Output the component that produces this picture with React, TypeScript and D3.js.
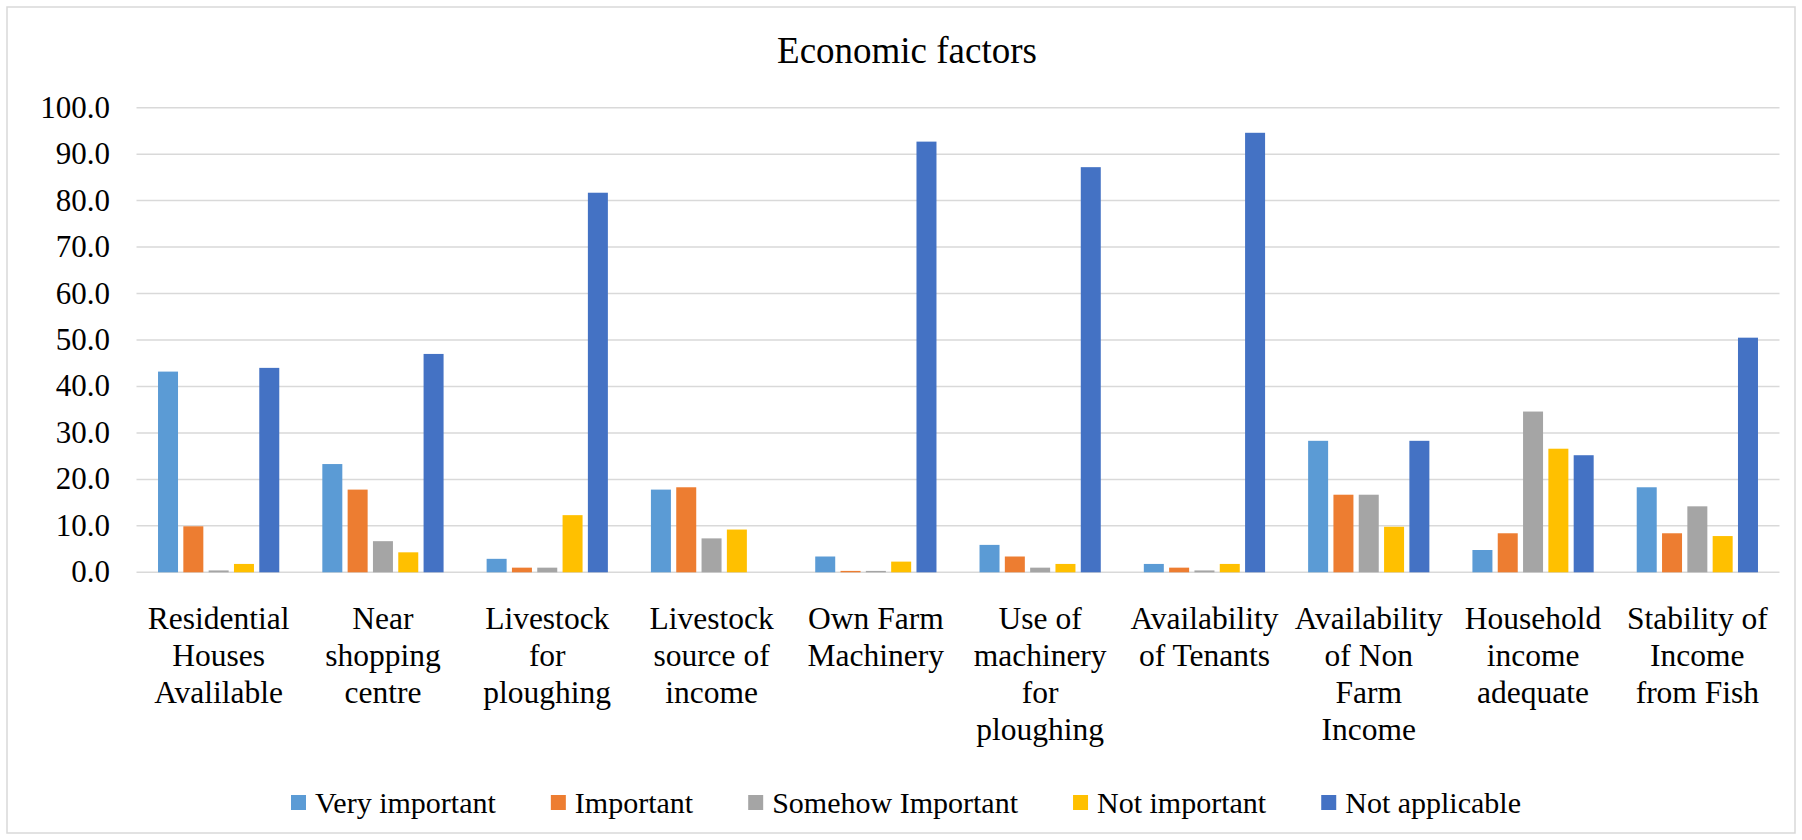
import React, { useMemo } from "react";
import * as d3 from "d3";

// Category labels, already broken into the lines they wrap to
const categoryLines: string[][] = [
  ["Residential", "Houses", "Avalilable"],
  ["Near", "shopping", "centre"],
  ["Livestock", "for", "ploughing"],
  ["Livestock", "source of", "income"],
  ["Own Farm", "Machinery"],
  ["Use of", "machinery", "for", "ploughing"],
  ["Availability", "of Tenants"],
  ["Availability", "of Non", "Farm", "Income"],
  ["Household", "income", "adequate"],
  ["Stability of", "Income", "from Fish"],
];

const seriesNames = ["Very important", "Important", "Somehow Important", "Not important", "Not applicable"];
const seriesColors = ["#5B9BD5", "#ED7D31", "#A5A5A5", "#FFC000", "#4472C4"];

const veryImportant = [43.2, 23.3, 2.9, 17.8, 3.4, 5.9, 1.8, 28.3, 4.8, 18.3];
const important = [9.9, 17.8, 1.0, 18.3, 0.3, 3.4, 1.0, 16.7, 8.4, 8.4];
const somehowImportant = [0.4, 6.7, 1.0, 7.3, 0.3, 1.0, 0.4, 16.7, 34.6, 14.2];
const notImportant = [1.8, 4.3, 12.3, 9.2, 2.3, 1.8, 1.8, 9.8, 26.6, 7.8];
const notApplicable = [44.0, 47.0, 81.7, 0.0, 92.7, 87.2, 94.6, 28.3, 25.2, 50.5];

const yTicks = [0, 10, 20, 30, 40, 50, 60, 70, 80, 90, 100];

const W = 1802;
const H = 840;
const FONT =
  "'Liberation Serif', Tinos, 'Times New Roman', Times, 'Nimbus Roman', 'Nimbus Roman No9 L', 'DejaVu Serif', 'Noto Serif', serif";

export default function App() {
  const series = [veryImportant, important, somehowImportant, notImportant, notApplicable];

  const plotLeft = 136.5;
  const plotRight = 1779.5;
  const plotTop = 107.7;
  const plotBottom = 572.3;

  const x = d3
    .scaleBand<number>()
    .domain(categoryLines.map((_, i) => i))
    .range([plotLeft, plotRight])
    .paddingInner(0)
    .paddingOuter(0);

  const groupWidth = x.bandwidth() * 0.738;
  const xs = d3
    .scaleBand<string>()
    .domain(seriesNames)
    .range([-groupWidth / 2, groupWidth / 2])
    .paddingInner(0.21)
    .paddingOuter(0);

  const y = d3.scaleLinear().domain([0, 100]).range([plotBottom, plotTop]);

  // Legend entries laid out from measured text widths
  const legend = useMemo(() => {
    const canvas = document.createElement("canvas");
    const ctx = canvas.getContext("2d")!;
    ctx.font = `30px ${FONT}`;
    const widths = seriesNames.map((s) => ctx.measureText(s).width);
    const sq = 15;
    const gapAfterSq = 9;
    const left = 291;
    const right = 1521;
    const content = widths.reduce((a, b) => a + b, 0) + seriesNames.length * (sq + gapAfterSq);
    const itemGap = Math.max(20, (right - left - content) / (seriesNames.length - 1));
    let cx = left;
    return seriesNames.map((name, i) => {
      const item = { name, color: seriesColors[i], x: cx, textX: cx + sq + gapAfterSq };
      cx += sq + gapAfterSq + widths[i] + itemGap;
      return item;
    });
  }, []);

  return (
    <svg
      width={W}
      height={H}
      style={{ position: "absolute", left: 0, top: 0, background: "#fff", fontFamily: FONT }}
    >
      <rect x={0} y={0} width={W} height={H} fill="#fff" />
      <rect x={7} y={7} width={1788} height={826} fill="#fff" stroke="#d9d9d9" strokeWidth={1.5} />

      <text x={907} y={63} textAnchor="middle" fontSize={37} fill="#000" style={{ fontFamily: FONT }}>
        Economic factors
      </text>

      {/* gridlines and value axis */}
      {yTicks.map((t) => (
        <g key={t}>
          <line x1={plotLeft} x2={plotRight} y1={y(t)} y2={y(t)} stroke="#d9d9d9" strokeWidth={1.5} />
          <text x={110} y={y(t) + 10} textAnchor="end" fontSize={31} fill="#000" style={{ fontFamily: FONT }}>
            {t.toFixed(1)}
          </text>
        </g>
      ))}

      {/* bars */}
      {categoryLines.map((_, ci) => {
        const cx = x(ci)! + x.bandwidth() / 2;
        return (
          <g key={ci}>
            {series.map((vals, si) => {
              const v = vals[ci];
              if (v <= 0) return null;
              return (
                <rect
                  key={si}
                  x={cx + xs(seriesNames[si])!}
                  y={y(v)}
                  width={xs.bandwidth()}
                  height={y(0) - y(v)}
                  fill={seriesColors[si]}
                />
              );
            })}
          </g>
        );
      })}

      {/* category labels */}
      {categoryLines.map((lines, ci) => {
        const cx = x(ci)! + x.bandwidth() / 2;
        return (
          <text key={ci} x={cx} y={629} textAnchor="middle" fontSize={31.5} fill="#000" style={{ fontFamily: FONT }}>
            {lines.map((ln, li) => (
              <tspan key={li} x={cx} y={629 + li * 37}>
                {ln}
              </tspan>
            ))}
          </text>
        );
      })}

      {/* legend */}
      {legend.map((it) => (
        <g key={it.name}>
          <rect x={it.x} y={795} width={15} height={15} fill={it.color} />
          <text x={it.textX} y={813} fontSize={30} fill="#000" style={{ fontFamily: FONT }}>
            {it.name}
          </text>
        </g>
      ))}
    </svg>
  );
}
